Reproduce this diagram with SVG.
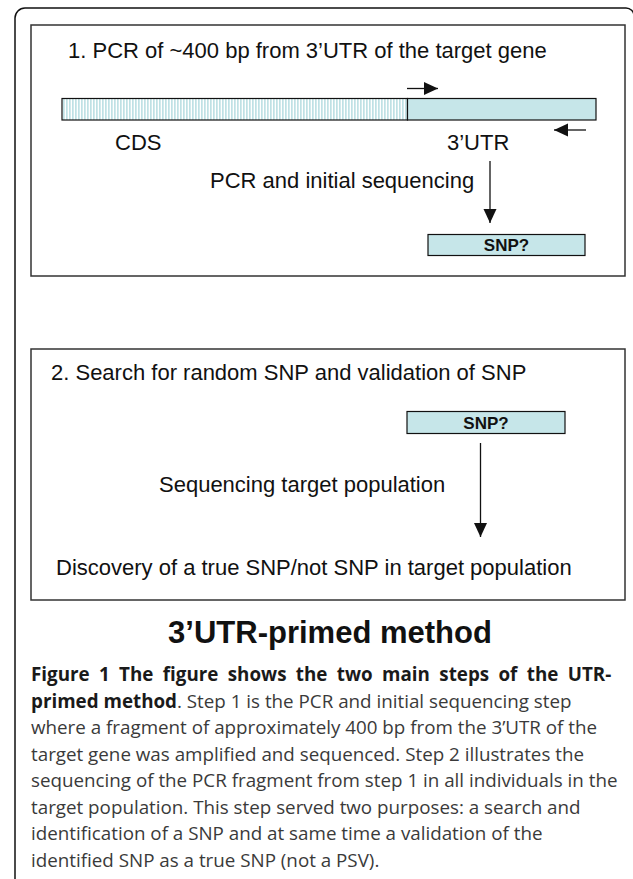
<svg xmlns="http://www.w3.org/2000/svg" width="633" height="879" viewBox="0 0 633 879">
<style>
.lbl{font-family:"Liberation Sans",Arial,sans-serif;font-size:22px;fill:#111}
.snp{font-family:"Liberation Sans",Arial,sans-serif;font-size:17px;font-weight:bold;fill:#111;text-anchor:middle}
.head{font-family:"Liberation Sans",Arial,sans-serif;font-size:31px;font-weight:bold;fill:#111;text-anchor:middle}
.cap{font-family:"Open Sans","Noto Sans",sans-serif;font-size:18.8px;fill:#3a3a3a}
.capb{font-weight:bold;fill:#1a1a1a}
.panel{fill:#fff;stroke:#333;stroke-width:1.5}
.fill{fill:#c6e6e9;stroke:#111;stroke-width:1.2}
.conn{stroke:#111;stroke-width:1.3;fill:none}
</style>
<defs>
<pattern id="hatch" width="3" height="10" patternUnits="userSpaceOnUse">
<rect width="3" height="10" fill="#ffffff"/>
<rect width="1.7" height="10" fill="#bfe1e5"/>
</pattern>
<marker id="ah" markerUnits="userSpaceOnUse" markerWidth="15" markerHeight="14" refX="14" refY="6.5" orient="auto">
<path d="M0,0 L14,6.5 L0,13 z" fill="#111"/>
</marker>
</defs>
<rect width="633" height="879" fill="#fff"/>
<g id="frame">
<path d="M15,879 V18 A10,10 0 0 1 25,8 H626 A8,8 0 0 1 634,16" fill="none" stroke="#111" stroke-width="1.5"/>
</g>
<g id="step1">
<rect class="panel" x="31" y="25" width="594" height="251"/>
<text class="lbl" x="68" y="58">1. PCR of ~400 bp from 3’UTR of the target gene</text>
</g>
<g id="cds">
<rect x="62" y="98.5" width="345.5" height="21.5" fill="url(#hatch)" stroke="#111" stroke-width="1.2"/>
<text class="lbl" x="115" y="150">CDS</text>
</g>
<g id="utr">
<rect class="fill" x="407.5" y="98.5" width="188.5" height="21.5"/>
<text class="lbl" x="447" y="150">3’UTR</text>
</g>
<g id="pcr-label">
<text class="lbl" x="210" y="188">PCR and initial sequencing</text>
</g>
<g id="snp1">
<rect class="fill" x="428" y="234.5" width="157" height="21"/>
<text class="snp" x="506.5" y="251">SNP?</text>
</g>
<g id="step2">
<rect class="panel" x="31" y="349" width="594" height="251"/>
<text class="lbl" x="51" y="380">2. Search for random SNP and validation of SNP</text>
</g>
<g id="snp2">
<rect class="fill" x="407" y="411.5" width="158" height="22"/>
<text class="snp" x="486" y="428.5">SNP?</text>
</g>
<g id="seq-label">
<text class="lbl" x="159" y="492">Sequencing target population</text>
</g>
<g id="discovery">
<text class="lbl" x="56" y="575">Discovery of a true SNP/not SNP in target population</text>
</g>
<g id="connectors">
<line class="conn" x1="407" y1="88.5" x2="438" y2="88.5" marker-end="url(#ah)"/>
<line class="conn" x1="586" y1="130" x2="554" y2="130" marker-end="url(#ah)"/>
<line class="conn" x1="490" y1="161" x2="490" y2="223" marker-end="url(#ah)"/>
<line class="conn" x1="480.5" y1="443" x2="480.5" y2="537" marker-end="url(#ah)"/>
</g>
<g id="title">
<text class="head" x="330" y="643">3’UTR-primed method</text>
</g>
<g id="caption">
<text class="cap capb" x="31" y="681" word-spacing="4.5">Figure 1 The figure shows the two main steps of the UTR-</text>
<text class="cap" x="31" y="707.5"><tspan class="capb">primed method</tspan>. Step 1 is the PCR and initial sequencing step</text>
<text class="cap" x="31" y="734">where a fragment of approximately 400 bp from the 3’UTR of the</text>
<text class="cap" x="31" y="760.5">target gene was amplified and sequenced. Step 2 illustrates the</text>
<text class="cap" x="31" y="787">sequencing of the PCR fragment from step 1 in all individuals in the</text>
<text class="cap" x="31" y="813.5">target population. This step served two purposes: a search and</text>
<text class="cap" x="31" y="840">identification of a SNP and at same time a validation of the</text>
<text class="cap" x="31" y="866.5">identified SNP as a true SNP (not a PSV).</text>
</g>
</svg>
